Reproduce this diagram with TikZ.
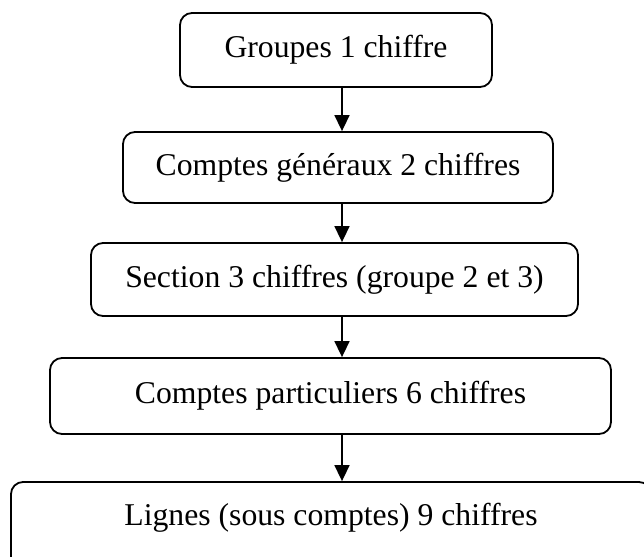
\documentclass[tikz,border=0pt]{standalone}
\usepackage{fontspec}
\setmainfont{Liberation Serif}
\usetikzlibrary{arrows.meta}
\begin{document}
\begin{tikzpicture}[x=1pt,y=1pt,
  box/.style={draw, line width=1.8pt, rounded corners=12pt, inner sep=0pt,
    font=\fontsize{31.7}{38}\selectfont},
  arr/.style={line width=1.6pt, -{Triangle[length=16pt,width=15pt]}}]
\useasboundingbox (0,0) rectangle (644,-556);
\clip (0,0) rectangle (644,-556);
\node[box, minimum width=312pt, minimum height=74pt] (b1) at (336,-50) {Groupes 1 chiffre};
\node[box, minimum width=430pt, minimum height=71pt] (b2) at (338,-167.5) {Comptes généraux 2 chiffres};
\node[box, minimum width=487pt, minimum height=73pt] (b3) at (334.5,-279.5) {Section 3 chiffres (groupe 2 et 3)};
\node[box, minimum width=561pt, minimum height=76pt] (b4) at (330.5,-396) {Comptes particuliers 6 chiffres};
\node[box, minimum width=640pt, minimum height=90pt] (b5) at (331,-527) {\raisebox{9pt}[\height][\depth]{Lignes (sous comptes) 9 chiffres}};
\coordinate (ax) at (342,0);
\draw[arr] (b1.south -| ax) -- (b2.north -| ax);
\draw[arr] (b2.south -| ax) -- (b3.north -| ax);
\draw[arr] (b3.south -| ax) -- (b4.north -| ax);
\draw[arr] (b4.south -| ax) -- (b5.north -| ax);
\end{tikzpicture}
\end{document}
